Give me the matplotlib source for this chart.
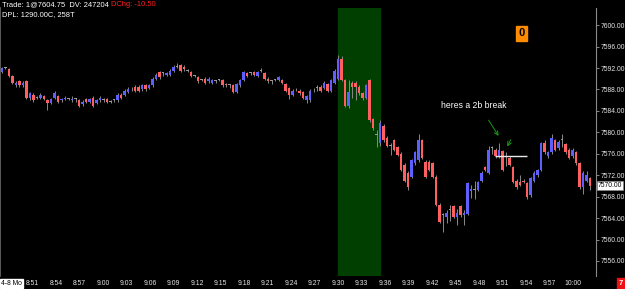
import matplotlib
matplotlib.use("Agg")
import matplotlib.pyplot as plt

plt.rcParams['font.family'] = ['Liberation Sans Narrow', 'Liberation Sans', 'DejaVu Sans']

# 258-tick bars
opens = [7591.25, 7592.0, 7591.75, 7590.5, 7588.75, 7589.5, 7588.75, 7589.5, 7586.5, 7587.0,
         7586.5, 7586.5, 7586.75, 7586.0, 7585.5, 7586.5, 7586.75, 7586.0, 7586.25, 7586.25,
         7586.0, 7586.25, 7586.0, 7585.25, 7586.25, 7585.75, 7586.5, 7585.5, 7586.0, 7586.0,
         7586.25, 7585.75, 7586.0, 7586.0, 7587.0, 7587.0, 7587.5, 7588.0, 7588.5, 7588.5,
         7588.0, 7588.75, 7588.25, 7588.75, 7590.0, 7591.25, 7591.0, 7590.75, 7590.75, 7591.5,
         7592.25, 7592.5, 7592.25, 7591.5, 7591.25, 7590.5, 7590.25, 7589.75, 7590.0, 7589.5,
         7589.25, 7589.5, 7589.75, 7589.75, 7589.0, 7588.75, 7588.75, 7587.5, 7588.75, 7589.75,
         7591.0, 7591.0, 7591.25, 7590.5, 7591.5, 7591.0, 7590.0, 7589.5, 7589.75, 7589.75,
         7589.75, 7589.0, 7588.25, 7587.0, 7588.0, 7587.75, 7587.5, 7586.0, 7586.0, 7588.0,
         7588.25, 7588.5, 7588.25, 7589.0, 7587.75, 7589.25, 7590.0, 7593.75, 7589.75, 7585.0,
         7589.25, 7589.25, 7588.5, 7587.25, 7586.5, 7589.75, 7582.5, 7579.5, 7578.0, 7581.25,
         7579.0, 7577.5, 7578.5, 7577.25, 7576.0, 7574.0, 7572.5, 7571.75, 7574.25, 7574.75,
         7578.5, 7574.5, 7574.5, 7574.25, 7571.75, 7566.5, 7564.5, 7564.25, 7565.5, 7566.25,
         7564.25, 7566.25, 7564.5, 7564.75, 7569.0, 7569.25, 7569.25, 7571.0, 7573.5, 7572.5,
         7577.0, 7576.75, 7575.5, 7576.5, 7574.75, 7575.25, 7573.5, 7571.0, 7570.75, 7571.0,
         7570.5, 7568.25, 7571.0, 7572.0, 7573.0, 7578.0, 7575.5, 7576.25, 7578.5, 7577.0,
         7578.5, 7577.75, 7576.75, 7575.5, 7576.25, 7574.25, 7569.75, 7571.0, 7571.5]
highs = [7592.25, 7592.25, 7592.0, 7590.75, 7589.5, 7589.75, 7589.5, 7589.75, 7587.5, 7587.25,
         7586.75, 7587.25, 7587.0, 7586.25, 7586.5, 7587.75, 7587.0, 7586.5, 7586.75, 7586.5,
         7586.75, 7586.5, 7586.25, 7586.0, 7586.5, 7586.5, 7586.75, 7586.25, 7586.75, 7586.5,
         7586.5, 7586.0, 7586.25, 7587.25, 7587.25, 7588.0, 7588.5, 7588.5, 7588.75, 7588.75,
         7589.0, 7589.0, 7589.0, 7590.25, 7591.0, 7591.5, 7591.25, 7591.25, 7591.75, 7592.5,
         7593.0, 7592.75, 7592.5, 7591.75, 7591.5, 7590.75, 7590.5, 7590.0, 7590.25, 7590.25,
         7590.0, 7589.75, 7590.0, 7590.0, 7589.25, 7589.0, 7589.0, 7589.25, 7590.0, 7591.5,
         7591.25, 7591.25, 7591.5, 7591.5, 7592.0, 7591.25, 7590.25, 7589.75, 7590.0, 7590.5,
         7590.0, 7589.25, 7588.5, 7588.0, 7588.25, 7588.0, 7587.75, 7587.0, 7588.0, 7588.25,
         7588.75, 7588.75, 7589.5, 7589.25, 7590.0, 7591.75, 7594.5, 7594.25, 7590.0, 7589.75,
         7589.5, 7589.5, 7588.75, 7587.5, 7589.0, 7590.0, 7582.75, 7580.5, 7582.25, 7581.5,
         7579.25, 7578.0, 7578.75, 7577.5, 7576.25, 7574.25, 7572.75, 7575.0, 7576.5, 7579.75,
         7578.75, 7574.75, 7574.75, 7574.5, 7572.0, 7566.75, 7565.0, 7565.5, 7566.5, 7566.5,
         7565.75, 7566.5, 7565.5, 7570.75, 7570.25, 7571.0, 7571.0, 7572.75, 7573.75, 7577.5,
         7577.5, 7577.0, 7578.0, 7576.75, 7576.25, 7575.5, 7573.75, 7571.25, 7572.0, 7571.25,
         7570.75, 7571.75, 7572.75, 7573.25, 7578.25, 7578.5, 7576.5, 7579.75, 7578.75, 7578.5,
         7579.75, 7578.0, 7577.0, 7577.0, 7576.5, 7574.5, 7572.75, 7572.75, 7571.75]
lows = [7591.0, 7591.75, 7590.25, 7589.0, 7588.5, 7588.5, 7588.5, 7586.25, 7586.0, 7585.75,
        7586.25, 7586.25, 7586.0, 7584.25, 7585.25, 7586.25, 7585.5, 7585.75, 7586.0, 7586.0,
        7585.75, 7585.75, 7584.75, 7585.0, 7585.5, 7585.5, 7584.75, 7585.25, 7585.75, 7585.75,
        7585.5, 7585.5, 7585.75, 7585.75, 7586.25, 7586.75, 7587.25, 7587.75, 7587.5, 7587.5,
        7587.75, 7587.75, 7588.0, 7588.5, 7589.75, 7590.0, 7590.5, 7590.5, 7590.5, 7591.25,
        7592.0, 7591.25, 7591.5, 7591.25, 7590.25, 7590.25, 7589.25, 7589.5, 7589.0, 7589.25,
        7589.0, 7589.25, 7589.5, 7588.5, 7588.5, 7588.25, 7587.25, 7587.25, 7588.5, 7589.5,
        7590.25, 7590.75, 7590.5, 7590.25, 7591.25, 7589.75, 7589.25, 7589.0, 7589.5, 7589.5,
        7589.0, 7587.5, 7586.25, 7586.75, 7587.75, 7587.0, 7586.25, 7585.5, 7585.75, 7587.5,
        7587.75, 7587.5, 7588.0, 7587.5, 7587.5, 7589.0, 7589.75, 7589.5, 7584.75, 7584.5,
        7586.5, 7586.0, 7587.0, 7586.0, 7586.25, 7582.0, 7580.5, 7577.25, 7577.5, 7578.25,
        7577.25, 7575.75, 7576.5, 7575.5, 7572.75, 7570.75, 7569.25, 7571.5, 7574.0, 7574.5,
        7575.0, 7571.5, 7572.75, 7571.5, 7566.25, 7563.0, 7561.5, 7563.0, 7563.5, 7564.0,
        7562.75, 7564.25, 7562.75, 7564.5, 7567.75, 7567.5, 7569.0, 7570.75, 7572.75, 7572.25,
        7576.0, 7575.25, 7575.25, 7572.75, 7573.75, 7573.75, 7570.5, 7569.5, 7570.0, 7570.5,
        7567.5, 7568.0, 7570.75, 7571.75, 7572.75, 7576.0, 7575.25, 7576.0, 7576.5, 7576.75,
        7577.25, 7576.0, 7575.0, 7575.25, 7574.0, 7569.5, 7568.5, 7570.75, 7569.25]
closes = [7592.0, 7592.0, 7590.5, 7589.25, 7589.25, 7588.75, 7589.25, 7586.5, 7587.25, 7586.0,
          7586.5, 7587.0, 7586.25, 7585.5, 7586.25, 7587.25, 7585.75, 7586.25, 7586.5, 7586.25,
          7586.25, 7586.25, 7585.0, 7585.75, 7585.75, 7586.25, 7585.0, 7586.0, 7586.5, 7586.0,
          7585.75, 7585.75, 7586.0, 7587.0, 7586.5, 7587.75, 7588.0, 7588.0, 7587.75, 7587.75,
          7588.75, 7588.0, 7588.75, 7590.0, 7590.75, 7590.25, 7591.0, 7591.0, 7591.5, 7592.25,
          7592.25, 7591.5, 7591.75, 7591.5, 7590.5, 7590.5, 7589.5, 7589.75, 7589.25, 7590.0,
          7589.75, 7589.5, 7589.75, 7588.75, 7588.75, 7588.75, 7587.5, 7589.0, 7589.75, 7591.25,
          7590.5, 7591.0, 7590.75, 7591.25, 7591.5, 7590.0, 7589.5, 7589.5, 7589.75, 7590.25,
          7589.25, 7587.75, 7587.0, 7587.75, 7588.0, 7587.25, 7586.5, 7586.75, 7587.75, 7588.0,
          7588.25, 7587.75, 7589.25, 7587.75, 7589.75, 7591.5, 7593.75, 7589.75, 7585.0, 7587.5,
          7588.5, 7588.5, 7587.25, 7586.5, 7588.75, 7582.25, 7580.75, 7579.5, 7581.75, 7578.5,
          7577.5, 7577.5, 7576.75, 7575.75, 7573.0, 7571.0, 7569.75, 7574.75, 7576.25, 7578.5,
          7575.25, 7571.75, 7573.0, 7571.75, 7566.5, 7563.25, 7564.5, 7565.0, 7565.5, 7564.25,
          7565.0, 7564.5, 7565.0, 7570.5, 7569.5, 7569.25, 7570.75, 7572.5, 7573.0, 7576.75,
          7577.0, 7575.5, 7576.75, 7573.0, 7574.75, 7574.0, 7570.75, 7569.75, 7570.25, 7570.75,
          7568.0, 7571.5, 7572.5, 7573.0, 7578.0, 7576.25, 7576.25, 7579.0, 7576.75, 7578.25,
          7578.5, 7576.25, 7575.25, 7576.75, 7574.25, 7569.75, 7572.5, 7572.0, 7570.0]

time_labels = ['8:51', '8:54', '8:57', '9:00', '9:03', '9:06', '9:09', '9:12', '9:15', '9:18',
               '9:21', '9:24', '9:27', '9:30', '9:33', '9:36', '9:39', '9:42', '9:45', '9:48',
               '9:51', '9:54', '9:57', '10:00']
price_ticks = [7556, 7560, 7564, 7568, 7572, 7576, 7580, 7584, 7588, 7592, 7596, 7600]
last_price = 7570.00
break_level = 7575.5

UP = '#5f5fff'
DOWN = '#ff5f5f'
FLAT = '#9a9a9a'
WICK = '#8a8a8a'
SMALL = 4.9

# bar index <-> clock time (the chart spaces bars evenly)
open_bar = 96            # first bar of 9:30
bars_per_min = 2.237


def time_pos(label):
    h, m = label.split(':')
    t = int(h) * 60 + int(m)
    return open_bar + (t - 570) * bars_per_min


fig = plt.figure(figsize=(6.25, 2.89), dpi=100, facecolor='black')
ax = fig.add_axes([0, 13 / 289, 596 / 625, 268 / 289], facecolor='black')

n = len(closes)
idx = list(range(n))

# opening range shade
ax.axvspan(time_pos('9:30'), time_pos('9:30') + 5.4 * bars_per_min, color='#003f00', zorder=0)

ax.vlines(idx, lows, highs, color=WICK, lw=0.7, zorder=2)
bottoms, heights, cols = [], [], []
for o, c in zip(opens, closes):
    bottoms.append(min(o, c))
    if c > o:
        heights.append(c - o)
        cols.append(UP)
    elif c < o:
        heights.append(o - c)
        cols.append(DOWN)
    else:
        heights.append(0.18)
        cols.append(FLAT)
ax.bar(idx, heights, bottom=bottoms, width=0.62, color=cols, lw=0, zorder=3)

ax.set_xlim(-0.57, 169.7)
ax.set_ylim(7553.2, 7603.2)

ax.yaxis.tick_right()
ax.set_yticks(price_ticks)
ax.set_yticklabels([f'{p:.2f}' for p in price_ticks])
ax.tick_params(axis='y', colors='#9a9a9a', labelcolor='#e6e6e6', labelsize=SMALL, length=2, pad=1, width=0.6)
ax.set_xticks([time_pos(t) for t in time_labels])
ax.set_xticklabels(time_labels)
ax.tick_params(axis='x', colors='#9a9a9a', labelcolor='#e6e6e6', labelsize=SMALL, length=0, pad=3)

for s in ['top', 'bottom']:
    ax.spines[s].set_visible(False)
ax.spines['right'].set_color('#8a8a8a')
ax.spines['right'].set_linewidth(0.8)
ax.spines['left'].set_color('#6a6a6a')
ax.spines['left'].set_linewidth(1.2)

# 2b break markup
ax.hlines(break_level, 140.9, 150.0, color='#e8e8e8', lw=1.0, zorder=4)
ax.text(134.9, 7585.1, 'heres a 2b break', color='white', fontsize=6.2, ha='center', va='center',
        family=['Liberation Sans', 'DejaVu Sans'])
arrow = dict(arrowstyle='->', color='#1a9a1a', lw=0.7, mutation_scale=7)
ax.annotate('', xy=(142.3, 7578.9), xytext=(138.6, 7582.7), arrowprops=arrow)
ax.annotate('', xy=(144.0, 7576.9), xytext=(145.7, 7579.1), arrowprops=arrow)

# last price tag on the scale
ax.text(1.003, last_price, f'{last_price:.2f}', transform=ax.get_yaxis_transform(), fontsize=SMALL,
        color='black', ha='left', va='center',
        bbox=dict(boxstyle='square,pad=0.15', fc='white', ec='#888888', lw=0.5))

# header
hdr = fig.text(2 / 625, 1 - 1.5 / 289, 'Trade: 1@7604.75  DV: 247204 ', color='white', fontsize=5.4,
               ha='left', va='top', family=['Liberation Sans', 'DejaVu Sans'])
fig.canvas.draw()
bb = hdr.get_window_extent()
fig.text(bb.x1 / 625, 1 - 1.5 / 289, 'DChg: -10.50', color='#ff2020', fontsize=5.4,
         ha='left', va='top', family=['Liberation Sans', 'DejaVu Sans'])
fig.text(2 / 625, 1 - 11.5 / 289, 'DPL: 1290.00C, 258T', color='white', fontsize=5.4,
         ha='left', va='top', family=['Liberation Sans', 'DejaVu Sans'])

# status boxes
fig.text(521.5 / 625, 1 - 33.5 / 289, '0', color='black', fontsize=8, fontweight='bold',
         ha='center', va='center', bbox=dict(boxstyle='square,pad=0.25', fc='#ff8c00', ec='#ff8c00'))
fig.text(620.5 / 625, 1 - 283.5 / 289, '7', color='white', fontsize=5.4, fontweight='bold',
         ha='center', va='center', bbox=dict(boxstyle='square,pad=0.25', fc='#ee1111', ec='#ee1111'))
fig.text(1 / 625, 1 - 283.5 / 289, '4-8 Mo', color='black', fontsize=SMALL, ha='left', va='center',
         bbox=dict(boxstyle='square,pad=0.12', fc='white', ec='white'))

fig.savefig('out.png', dpi=100, facecolor='black')
